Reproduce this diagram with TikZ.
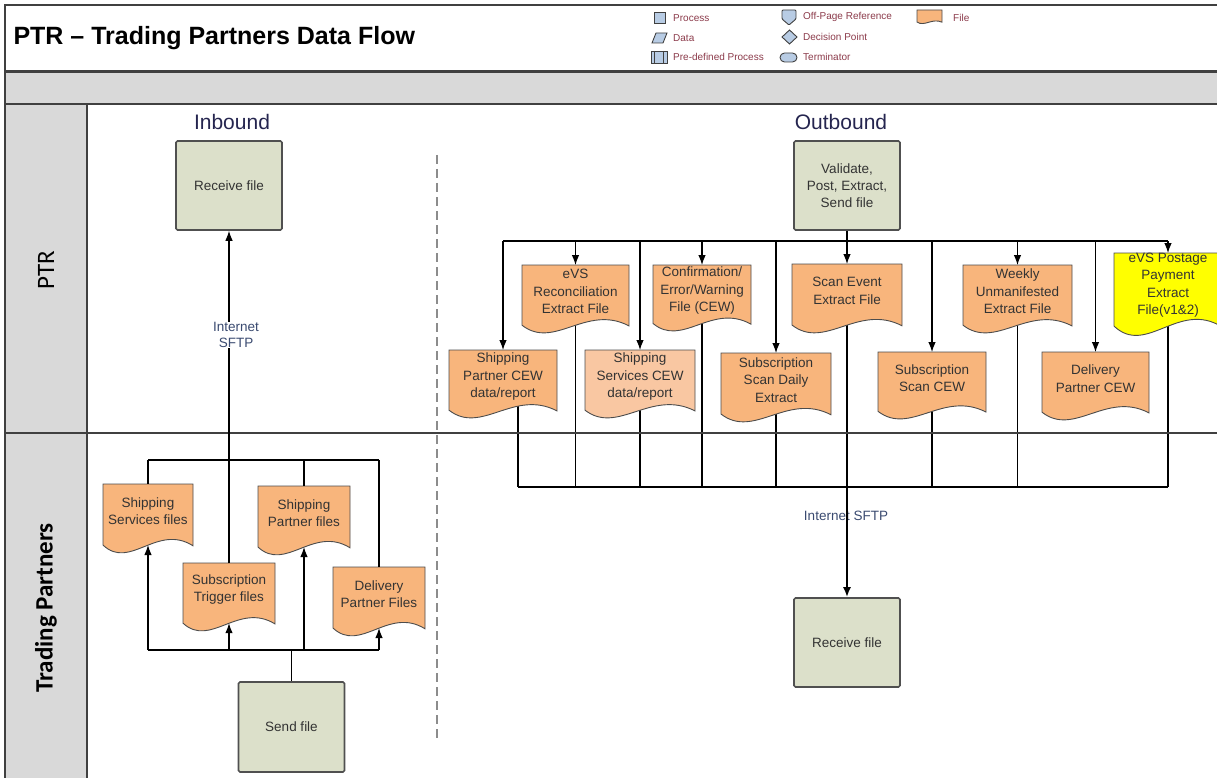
\documentclass[tikz,border=0pt]{standalone}
\usepackage{fontspec}
\setmainfont{Liberation Sans}
\newfontfamily\lanefont{Carlito}
\usetikzlibrary{calc,arrows.meta}

\definecolor{procfill}{HTML}{DCE0CA}
\definecolor{procedge}{HTML}{505050}
\definecolor{filefill}{HTML}{F8B57C}
\definecolor{filelight}{HTML}{F9C7A2}
\definecolor{fileyellow}{HTML}{FFFF00}
\definecolor{lanegrey}{HTML}{D9D9D9}
\definecolor{legendfill}{HTML}{B8CCE4}
\definecolor{legendtext}{HTML}{8B3A4A}
\definecolor{labelblue}{HTML}{3A4A70}
\definecolor{headnavy}{HTML}{25254F}

\pgfdeclarelayer{bg}
\pgfsetlayers{bg,main}

\tikzset{
  frame/.style={draw=black!75, line width=1.6pt},
  process/.style={draw=procedge, fill=procfill, line width=1.6pt, rounded corners=1.5pt,
    minimum width=106pt, minimum height=89pt, align=center, text=black!80,
    font=\fontsize{13.5}{17}\selectfont},
  filebox/.style={draw=none, inner sep=0pt, outer sep=0pt},
  filetext/.style={align=center, text=black!80, inner sep=0pt,
    font=\fontsize{13.5}{17.5}\selectfont},
  link/.style={line width=1.1pt},
  flow/.style={line width=1.1pt, -{Latex[length=10pt,width=7.5pt]}},
  bus/.style={line width=2.6pt},
  heading/.style={text=headnavy, font=\fontsize{21}{24}\selectfont},
  netlabel/.style={text=labelblue, align=center, font=\fontsize{13.5}{15.5}\selectfont},
  lanelabel/.style={rotate=90, font=\lanefont\fontsize{25}{28}\selectfont},
  legendshape/.style={draw=black!75, fill=legendfill, line width=0.9pt},
  legendtxt/.style={anchor=west, text=legendtext, inner sep=0pt, font=\fontsize{10}{12}\selectfont},
  divider/.style={draw=black!45, line width=2pt, dash pattern=on 9pt off 5pt}
}

% file symbol: [fill] name, top-left corner, width, height, text
\newcommand{\filedoc}[6][filefill]{%
  \node[filebox, minimum width=#4pt, minimum height=#5pt, anchor=north west] (#2) at #3 {};
  \filldraw[fill=#1, draw=black!70, line width=0.9pt]
    (#2.north west) -- (#2.north east) -- ($(#2.north east)!0.87!(#2.south east)$)
    .. controls ($(#2.south west)!0.6!(#2.south east)+(0,-0.45*#5)$)
    and ($(#2.south west)!0.3!(#2.south east)+(0,0.22*#5)$)
    .. ($(#2.north west)!0.86!(#2.south west)$) -- cycle;
  \node[filetext] (#2-t) at ($(#2.north)!0.38!(#2.south)$) {#6};
}

\begin{document}
\begin{tikzpicture}[x=1pt,y=-1pt]
  \clip (0,0) rectangle (1217,778);

  % swimlane frame
  \fill[lanegrey] (5,72) rectangle (1217,104);
  \fill[lanegrey] (5,104) rectangle (87,778);
  \draw[frame] (5,778) -- (5,5) -- (1217,5);
  \draw[frame, line width=2.6pt] (5,71.5) -- (1217,71.5);
  \draw[frame] (5,104) -- (1217,104);
  \draw[frame] (87,104) -- (87,778);
  \draw[frame] (5,433) -- (1217,433);

  \node[anchor=west, font=\fontsize{25}{30}\selectfont\bfseries] (title) at (10,38) {PTR – Trading Partners Data Flow};
  \node[lanelabel] (ptrlane) at (46,270) {PTR};
  \node[lanelabel, font=\lanefont\fontsize{25}{28}\selectfont\bfseries] (tplane) at (46,608) {Trading Partners};

  % legend
  \node[legendshape, minimum size=11pt, inner sep=0pt] (lgproc) at (660,18) {};
  \filldraw[legendshape] (652,43) -- (656,33) -- (667,33) -- (663,43) -- cycle;
  \filldraw[legendshape] (651,51) rectangle (667,63);
  \draw[line width=1.4pt, black!75] (654.5,51) -- (654.5,63) (663.5,51) -- (663.5,63);
  \filldraw[legendshape, rounded corners=1pt] (782,10) -- (796,10) -- (796,19) -- (789,25) -- (782,19) -- cycle;
  \filldraw[legendshape] (782,37) -- (789.5,30) -- (797,37) -- (789.5,44) -- cycle;
  \filldraw[legendshape, rounded corners=4.5pt] (780,53) rectangle (797,62);
  \filedoc{lgfile}{(917,10)}{25}{14}{}
  \node[legendtxt] (lgproct) at (673,18) {Process};
  \node[legendtxt] (lgdata) at (673,38) {Data};
  \node[legendtxt] (lgpre) at (673,57) {Pre-defined Process};
  \node[legendtxt] (lgoff) at (803,17) {Off-Page Reference};
  \node[legendtxt] (lgdec) at (803,37) {Decision Point};
  \node[legendtxt] (lgterm) at (803,57) {Terminator};
  \node[legendtxt] (lgfilet) at (953,18) {File};

  \node[heading] (inhead) at (232,122) {Inbound};
  \node[heading] (outhead) at (841,122) {Outbound};
  \draw[divider] (437,155) -- (437,742);

  % inbound
  \node[process] (recvin) at (229,185.5) {Receive file};
  \filedoc{ssf}{(103,484)}{90}{71}{Shipping\\Services files}
  \filedoc{spf}{(258,486)}{92}{71}{Shipping\\Partner files}
  \filedoc{stf}{(183,563)}{92}{70}{Subscription\\Trigger files}
  \filedoc{dpf}{(333,567)}{92}{71}{Delivery\\Partner Files}
  \node[process, minimum height=90pt] (sendfile) at (291.5,727) {Send file};

  \coordinate (inbus) at (0,460);
  \coordinate (inbase) at (0,650);
  \draw[link] (ssf.north |- inbus) -- (dpf.north |- inbus);
  \foreach \fn in {ssf,spf,dpf}
    \draw[link] (\fn.north |- inbus) -- (\fn.north);
  \draw[flow] (stf.north) -- (recvin.south);
  \node[netlabel, fill=white, inner sep=1pt] (sftpin) at (236,335) {Internet\\SFTP};
  \draw[link] (ssf.north |- inbase) -- (dpf.north |- inbase);
  \foreach \fn in {ssf,stf,spf,dpf}
    \draw[flow] (\fn.north |- inbase) -- ($(\fn.north)!0.86!(\fn.south)$);
  \draw[link] (sendfile.north) -- (sendfile.north |- inbase);

  % outbound
  \node[process] (validate) at (847,185.5) {Validate,\\Post, Extract,\\Send file};
  \filedoc{evsrec}{(522,265)}{107}{70}{eVS\\Reconciliation\\Extract File}
  \filedoc{cew}{(653,265)}{98}{68}{Confirmation/\\Error/Warning\\File (CEW)}
  \filedoc{scanev}{(792,264)}{110}{71}{Scan Event\\Extract File}
  \filedoc{weekly}{(963,265)}{109}{70}{Weekly\\Unmanifested\\Extract File}
  \filedoc[fileyellow]{evspay}{(1114,253)}{108}{85}{eVS Postage\\Payment\\Extract\\File(v1\&2)}
  \filedoc{spcew}{(449,350)}{108}{70}{Shipping\\Partner CEW\\data/report}
  \filedoc[filelight]{sscew}{(585,350)}{110}{70}{Shipping\\Services CEW\\data/report}
  \filedoc{ssdaily}{(721,353)}{110}{71}{Subscription\\Scan Daily\\Extract}
  \filedoc{sscan}{(878,352)}{108}{69}{Subscription\\Scan CEW}
  \filedoc{dpcew}{(1042,352)}{107}{70}{Delivery\\Partner CEW}
  \node[process] (recvout) at (847,642.5) {Receive file};

  \coordinate (outbus) at (0,241);
  \coordinate (retbus) at (0,487);
  \draw[bus] (validate.south) -- (validate.south |- outbus);
  \draw[bus] (spcew.north |- outbus) -- (dpcew.north |- outbus);
  \draw[link] (dpcew.north |- outbus) -- (evspay.north |- outbus);
  \foreach \fn in {spcew,evsrec,sscew,cew,ssdaily,scanev,sscan,weekly,dpcew,evspay}
    \draw[flow] (\fn.north |- outbus) -- (\fn.north);

  \begin{pgfonlayer}{bg}
    \draw[link] ([xshift=15pt]spcew.center) -- ([xshift=15pt]spcew.center |- retbus);
    \foreach \fn in {evsrec,sscew,cew,ssdaily,scanev,sscan,weekly,evspay}
      \draw[link] (\fn.center) -- (\fn.center |- retbus);
  \end{pgfonlayer}
  \draw[link] ([xshift=15pt]spcew.center |- retbus) -- (evspay.center |- retbus);
  \node[netlabel] (sftpout) at (846,516) {Internet SFTP};
  \draw[bus, -{Latex[length=10pt,width=8pt]}] (recvout.north |- retbus) -- (recvout.north);
\end{tikzpicture}
\end{document}
